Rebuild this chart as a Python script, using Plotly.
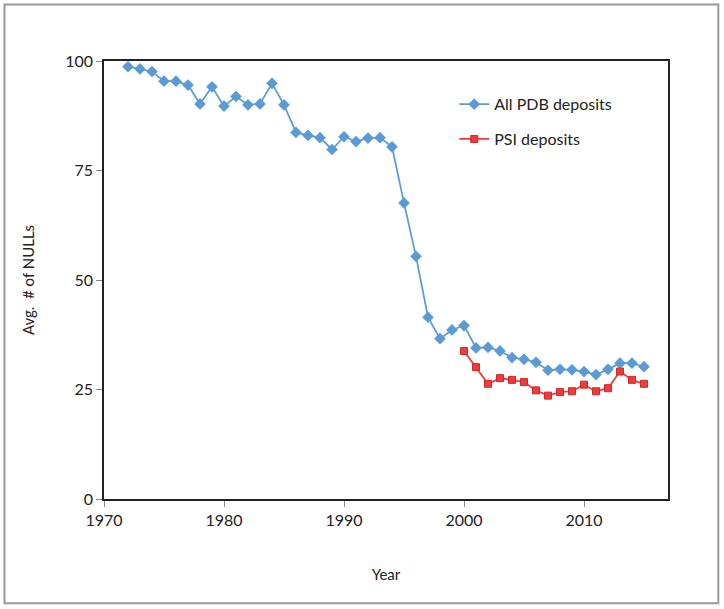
import plotly.graph_objects as go

years_all = list(range(1972, 2016))
all_pdb = [98.7, 98.2, 97.6, 95.4, 95.4, 94.5, 90.2, 94.1, 89.7, 91.9,
           90.0, 90.2, 94.9, 90.0, 83.7, 83.0, 82.5, 79.8, 82.7, 81.6,
           82.4, 82.5, 80.4, 67.6, 55.4, 41.5, 36.6, 38.6, 39.6, 34.5,
           34.6, 33.8, 32.3, 31.9, 31.2, 29.4, 29.6, 29.5, 29.1, 28.4,
           29.6, 31.0, 31.0, 30.2]
years_psi = list(range(2000, 2016))
psi = [33.8, 30.1, 26.3, 27.6, 27.2, 26.7, 24.8, 23.6, 24.4, 24.6,
       26.1, 24.6, 25.3, 29.1, 27.2, 26.3]

x_ticks = [1970, 1980, 1990, 2000, 2010]
y_ticks = [0, 25, 50, 75, 100]

blue = "#5B9BD5"
red = "#EE3B3B"
font_family = "Lato, 'Open Sans', sans-serif"

fig = go.Figure()
fig.add_trace(go.Scatter(
    x=years_all, y=all_pdb, mode="lines+markers", name="All PDB deposits",
    legendgroup="a",
    line=dict(color=blue, width=1.75),
    marker=dict(symbol="diamond", size=9, color=blue),
))
fig.add_trace(go.Scatter(
    x=years_psi, y=psi, mode="lines+markers", name="PSI deposits",
    legendgroup="b",
    line=dict(color=red, width=1.75),
    marker=dict(symbol="square", size=7, color=red, line=dict(color="#D02828", width=1)),
))

fig.update_layout(
    width=724, height=609,
    margin=dict(l=104, r=56, t=61, b=110),
    paper_bgcolor="white", plot_bgcolor="white",
    font=dict(family=font_family, size=15, color="#222"),
    showlegend=True,
    legend=dict(x=0.621, y=0.94, xanchor="left", yanchor="top",
                bgcolor="rgba(0,0,0,0)", font=dict(size=16, color="#222"),
                tracegroupgap=11, traceorder="grouped"),
    xaxis=dict(
        range=[1970, 2017], tickvals=x_ticks, ticktext=[str(v) for v in x_ticks],
        showgrid=False, zeroline=False,
        showline=True, linecolor="#222", linewidth=1.5, mirror=True,
        ticks="outside", ticklen=6, tickcolor="#888",
        tickfont=dict(size=16),
        title=dict(text="Year", standoff=42, font=dict(size=15)),
    ),
    yaxis=dict(
        range=[0, 100], tickvals=y_ticks, ticktext=[str(v) for v in y_ticks],
        showgrid=False, zeroline=False,
        showline=True, linecolor="#222", linewidth=1.5, mirror=True,
        ticks="outside", ticklen=6, tickcolor="#888",
        tickfont=dict(size=16),
        title=dict(text="Avg.  # of NULLs", standoff=27, font=dict(size=15)),
    ),
    shapes=[dict(type="rect", xref="paper", yref="paper",
                 x0=-0.1764, x1=1.0892, y0=-0.2381, y1=1.129,
                 line=dict(color="#999", width=2), layer="below")],
)

fig.write_html("out.html", config={"displayModeBar": False},
               post_script="document.body.style.margin='0';")
